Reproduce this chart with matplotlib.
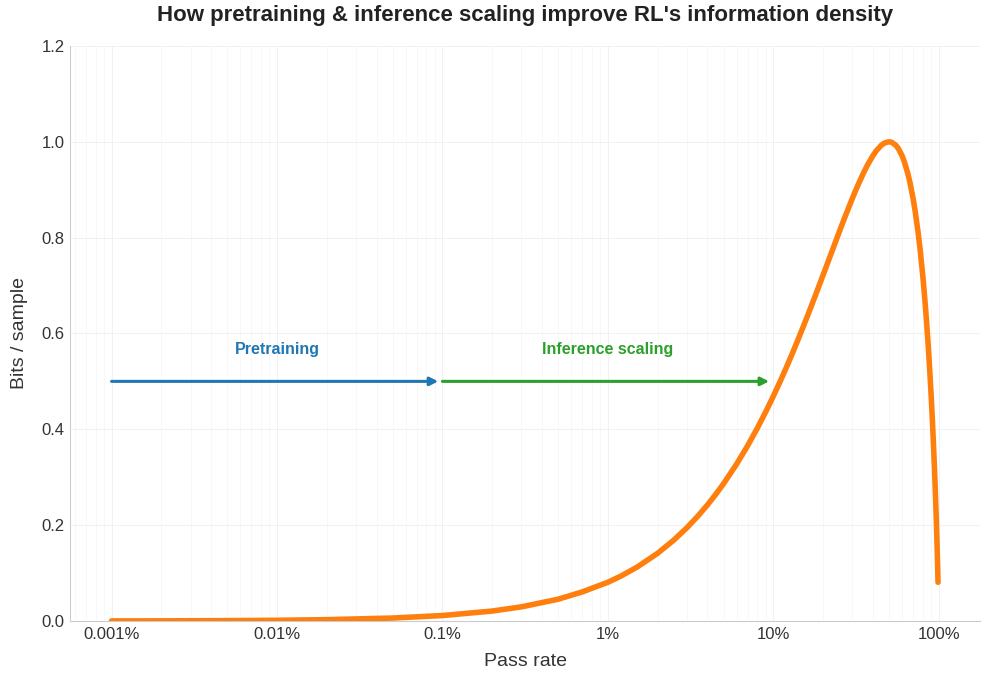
import matplotlib

matplotlib.use("Agg")
import matplotlib.pyplot as plt
from matplotlib.ticker import FixedLocator, LogLocator, NullFormatter

plt.rcParams["font.family"] = ["Liberation Sans", "DejaVu Sans"]

# pass rate (fraction) and bits per sample
pass_rate = [
    1e-5, 2e-5, 5e-5, 1e-4, 2e-4, 5e-4, 1e-3, 2e-3, 3e-3, 5e-3, 7e-3,
    0.01, 0.012, 0.015, 0.02, 0.025, 0.03, 0.035, 0.04, 0.045, 0.05, 0.06,
    0.07, 0.08, 0.09, 0.1, 0.11, 0.12, 0.13, 0.14, 0.16, 0.18, 0.2, 0.22,
    0.25, 0.27, 0.3, 0.32, 0.35, 0.37, 0.4, 0.42, 0.45, 0.47, 0.5, 0.52,
    0.55, 0.57, 0.6, 0.62, 0.65, 0.67, 0.7, 0.72, 0.75, 0.77, 0.8, 0.82,
    0.84, 0.86, 0.87, 0.88, 0.89, 0.9, 0.91, 0.92, 0.93, 0.94, 0.945,
    0.95, 0.955, 0.96, 0.965, 0.97, 0.975, 0.98, 0.985, 0.99,
]
bits = [
    0.0002, 0.0003, 0.0008, 0.0015, 0.0028, 0.0062, 0.0114, 0.0208, 0.0295, 0.0454, 0.0607,
    0.0808, 0.0938, 0.1124, 0.1414, 0.1687, 0.1944, 0.2189, 0.2423, 0.2648, 0.2864, 0.3274,
    0.3659, 0.4022, 0.4365, 0.469, 0.4999, 0.5294, 0.5574, 0.5842, 0.6343, 0.6801, 0.7219, 0.7602,
    0.8113, 0.8415, 0.8813, 0.9044, 0.9341, 0.9507, 0.971, 0.9815, 0.9928, 0.9974, 1.0, 0.9988,
    0.9928, 0.9858, 0.971, 0.958, 0.9341, 0.9149, 0.8813, 0.8555, 0.8113, 0.778, 0.7219, 0.6801,
    0.6343, 0.5842, 0.5574, 0.5294, 0.4999, 0.469, 0.4365, 0.4022, 0.3659, 0.3274, 0.3073,
    0.2864, 0.2648, 0.2423, 0.2189, 0.1944, 0.1687, 0.1414, 0.1124, 0.0808,
]

tick_vals = [1e-5, 1e-4, 1e-3, 1e-2, 1e-1, 1.0]
tick_labels = ["0.001%", "0.01%", "0.1%", "1%", "10%", "100%"]

# arrows: (label, start, end, colour)
arrows = [
    ("Pretraining", 1e-5, 1e-3, "#1f77b4"),
    ("Inference scaling", 1e-3, 1e-1, "#2ca02c"),
]
arrow_y = 0.5
label_y = 0.567

fig, ax = plt.subplots(figsize=(9.89, 6.75), dpi=100)
fig.subplots_adjust(left=0.071, right=0.991, top=0.932, bottom=0.08)

ax.plot(pass_rate, bits, color="#ff7f0e", lw=4, solid_capstyle="round",
        solid_joinstyle="round", zorder=3)

for label, x0, x1, col in arrows:
    ax.annotate(
        "", xy=(x1, arrow_y), xytext=(x0, arrow_y),
        arrowprops=dict(arrowstyle="-|>", color=col, lw=2.2, shrinkA=0, shrinkB=3,
                        mutation_scale=12),
    )
    ax.text((x0 * x1) ** 0.5, label_y, label, color=col, fontsize=11.5,
            fontweight="bold", ha="center", va="center")

ax.set_xscale("log")
ax.set_xlim(10 ** -5.25, 10 ** 0.25)
ax.set_ylim(0, 1.2)
ax.xaxis.set_major_locator(FixedLocator(tick_vals))
ax.set_xticklabels(tick_labels)
ax.xaxis.set_minor_locator(LogLocator(base=10, subs=range(2, 10)))
ax.xaxis.set_minor_formatter(NullFormatter())
ax.set_yticks([0, 0.2, 0.4, 0.6, 0.8, 1.0, 1.2])

ax.grid(True, which="major", color="#efefef", lw=0.6)
ax.grid(True, which="minor", axis="x", color="#f6f6f6", lw=0.5)
ax.set_axisbelow(True)

for s in ("top", "right"):
    ax.spines[s].set_visible(False)
for s in ("left", "bottom"):
    ax.spines[s].set_color("#cccccc")
ax.tick_params(which="both", length=0, labelsize=12, colors="#333333", pad=4)

ax.set_xlabel("Pass rate", fontsize=14, color="#333333", labelpad=8)
ax.set_ylabel("Bits / sample", fontsize=14, color="#333333", labelpad=10)
ax.set_title("How pretraining & inference scaling improve RL's information density",
             fontsize=16, fontweight="bold", color="#222222", pad=18)

fig.savefig("out.png", dpi=100)
